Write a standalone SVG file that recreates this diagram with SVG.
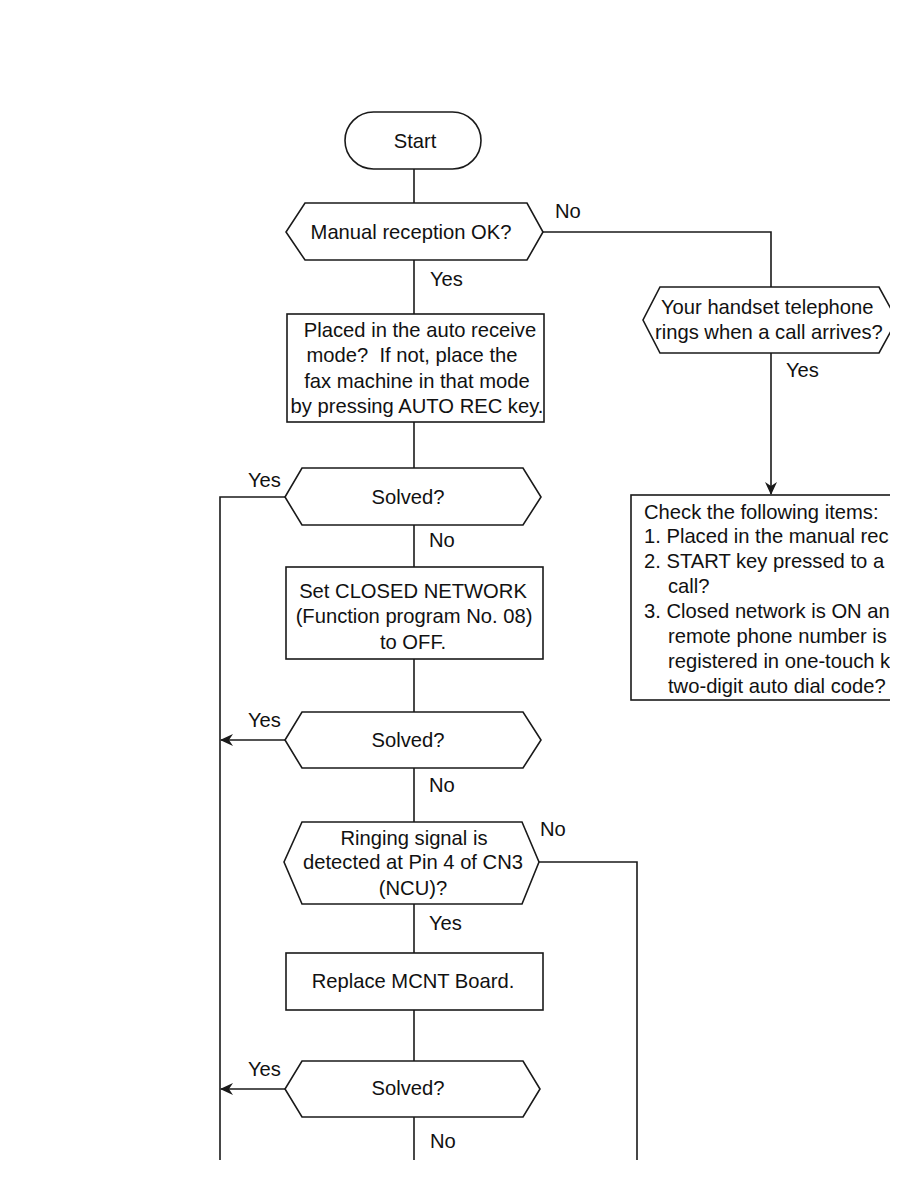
<svg xmlns="http://www.w3.org/2000/svg" width="918" height="1188" viewBox="0 0 918 1188">
<style>
.s{fill:#fff;stroke:#1a1a1a;stroke-width:1.6}
.c{fill:none;stroke:#1a1a1a;stroke-width:1.6}
text{font-family:"Liberation Sans",Arial,sans-serif;font-size:20.2px;fill:#111}
.m{text-anchor:middle}
</style>
<defs>
<marker id="ah" markerWidth="14" markerHeight="12" refX="12" refY="6" orient="auto" markerUnits="userSpaceOnUse">
<path d="M0,0 L13,6 L0,12 L4,6 Z" fill="#1a1a1a"/>
</marker>
<clipPath id="clipR"><rect x="0" y="0" width="890" height="1188"/></clipPath>
</defs>
<rect width="918" height="1188" fill="#fff"/>
<g id="connectors" clip-path="url(#clipR)">
<path class="c" d="M414,169 V203"/>
<path class="c" d="M543,232 H771 V287"/>
<path class="c" d="M414,260 V314"/>
<path class="c" d="M771,353 V494" marker-end="url(#ah)"/>
<path class="c" d="M414,422 V468"/>
<path class="c" d="M285,497 H220 V1160"/>
<path class="c" d="M414,525 V567"/>
<path class="c" d="M414,659 V712"/>
<path class="c" d="M285,740 H221" marker-end="url(#ah)"/>
<path class="c" d="M414,768 V822"/>
<path class="c" d="M539,862 H637 V1160"/>
<path class="c" d="M414,904 V953"/>
<path class="c" d="M414,1010 V1061"/>
<path class="c" d="M285,1089 H221" marker-end="url(#ah)"/>
<path class="c" d="M414,1117 V1160"/>
<text x="555" y="218">No</text>
<text x="430" y="286">Yes</text>
<text x="786" y="377">Yes</text>
<text x="248" y="487">Yes</text>
<text x="429" y="547">No</text>
<text x="248" y="727">Yes</text>
<text x="429" y="792">No</text>
<text x="540" y="836">No</text>
<text x="429" y="930">Yes</text>
<text x="248" y="1076">Yes</text>
<text x="430" y="1148">No</text>
</g>
<g id="start">
<rect class="s" x="345" y="112" width="136" height="57" rx="28.5"/>
<text class="m" x="415" y="148">Start</text>
</g>
<g id="d_manual">
<path class="s" d="M305,203 H527 L543,232 L527,260 H305 L286,232 Z"/>
<text class="m" x="411" y="239">Manual reception OK?</text>
</g>
<g id="p_auto">
<rect class="s" x="287" y="314" width="257" height="108"/>
<text class="m" x="420" y="337">Placed in the auto receive</text>
<text class="m" x="412" y="362" xml:space="preserve">mode?  If not, place the</text>
<text class="m" x="417" y="388">fax machine in that mode</text>
<text class="m" x="417" y="413">by pressing AUTO REC key.</text>
</g>
<g id="d_handset" clip-path="url(#clipR)">
<path class="s" d="M660,287 H879 L897,320 L879,353 H660 L643,320 Z"/>
<text x="661" y="314">Your handset telephone</text>
<text x="655" y="339">rings when a call arrives?</text>
</g>
<g id="p_check" clip-path="url(#clipR)">
<rect class="s" x="631" y="495" width="300" height="205"/>
<text x="644" y="519">Check the following items:</text>
<text x="644" y="543">1. Placed in the manual rec</text>
<text x="644" y="568">2. START key pressed to a</text>
<text x="668" y="593">call?</text>
<text x="644" y="618">3. Closed network is ON an</text>
<text x="668" y="643">remote phone number is</text>
<text x="668" y="668">registered in one-touch k</text>
<text x="668" y="693">two-digit auto dial code?</text>
</g>
<g id="d_solved1">
<path class="s" d="M302,468 H523 L541,497 L523,525 H302 L285,497 Z"/>
<text class="m" x="408" y="504">Solved?</text>
</g>
<g id="p_closed">
<rect class="s" x="286" y="567" width="257" height="92"/>
<text class="m" x="413" y="598">Set CLOSED NETWORK</text>
<text class="m" x="414" y="623">(Function program No. 08)</text>
<text class="m" x="413" y="649">to OFF.</text>
</g>
<g id="d_solved2">
<path class="s" d="M302,712 H523 L541,740 L523,768 H302 L285,740 Z"/>
<text class="m" x="408" y="747">Solved?</text>
</g>
<g id="d_ringing">
<path class="s" d="M302,822 H522 L539,862 L522,904 H302 L284,862 Z"/>
<text class="m" x="414" y="845">Ringing signal is</text>
<text class="m" x="413" y="869">detected at Pin 4 of CN3</text>
<text class="m" x="413" y="895">(NCU)?</text>
</g>
<g id="p_mcnt">
<rect class="s" x="286" y="953" width="257" height="57"/>
<text class="m" x="413" y="988">Replace MCNT Board.</text>
</g>
<g id="d_solved3">
<path class="s" d="M302,1061 H523 L540,1089 L523,1117 H302 L285,1089 Z"/>
<text class="m" x="408" y="1095">Solved?</text>
</g>
</svg>
